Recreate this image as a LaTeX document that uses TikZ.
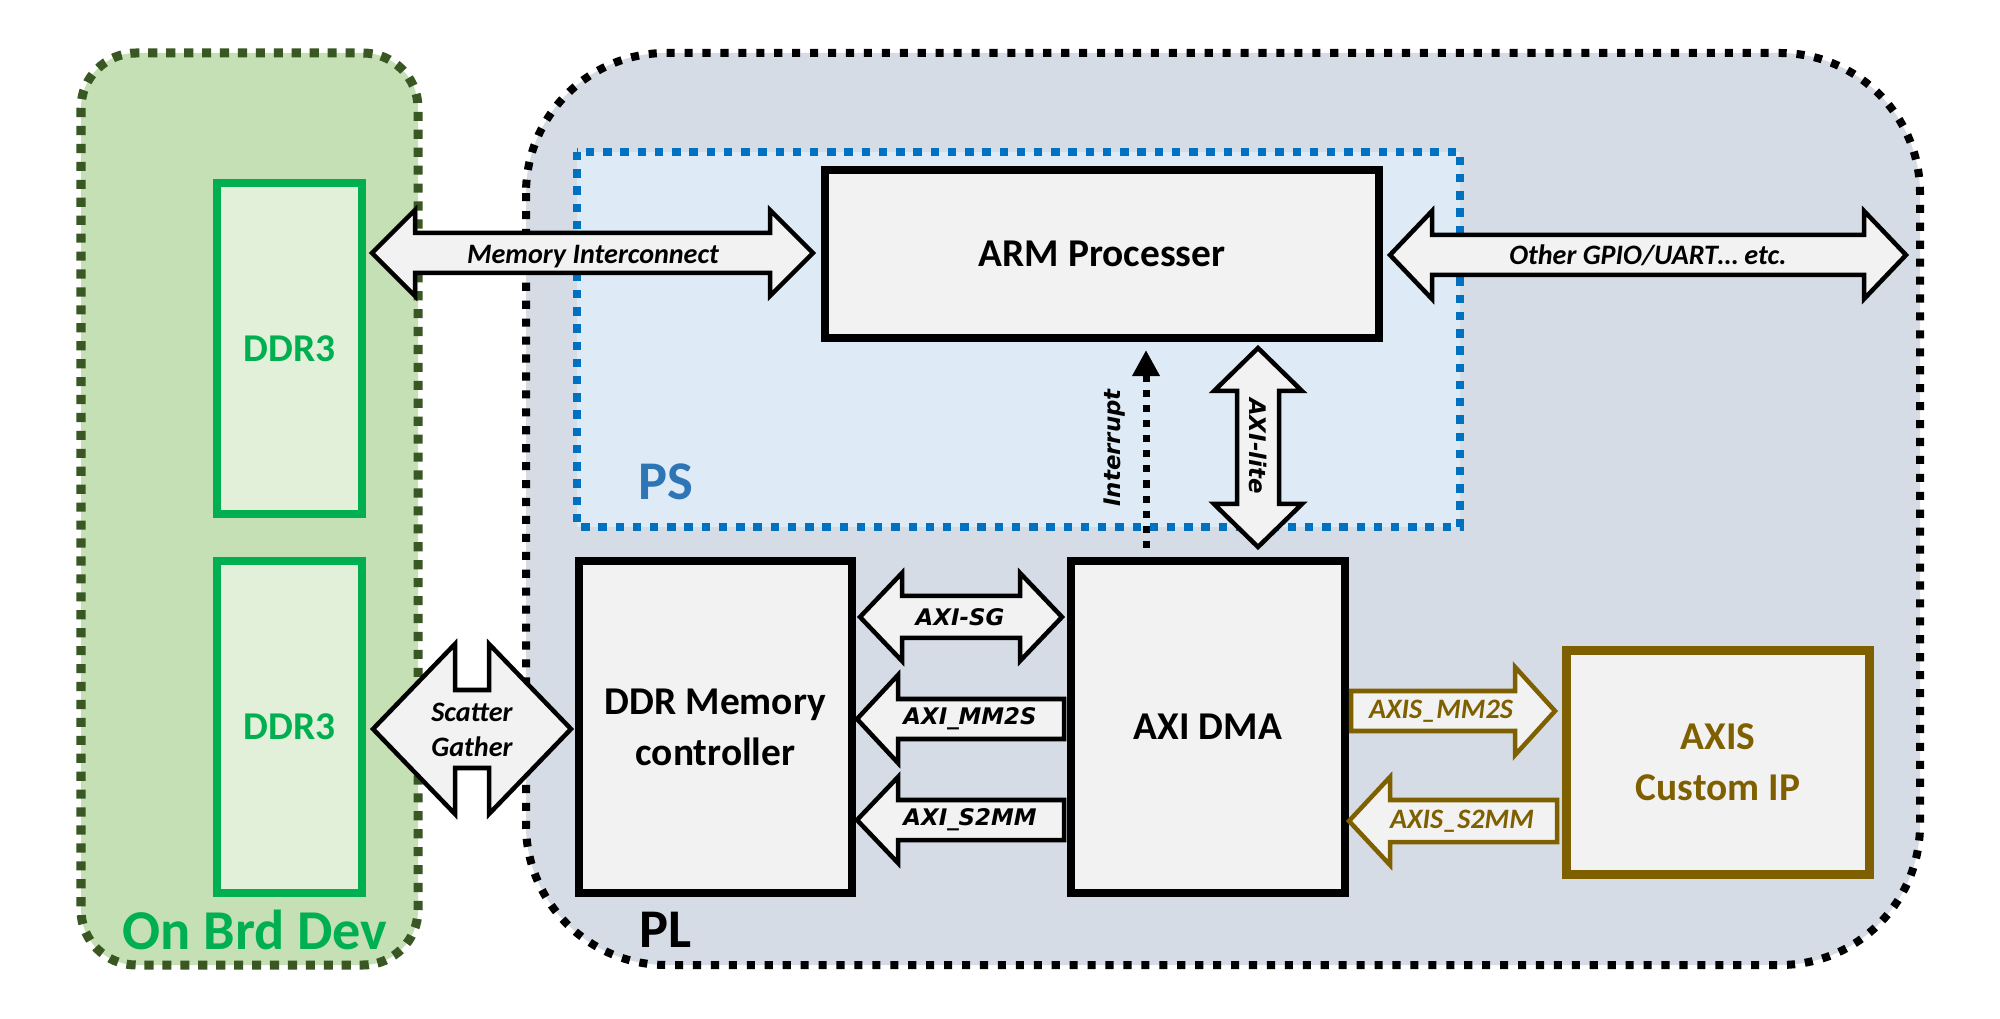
\documentclass[tikz,border=0pt]{standalone}
\usepackage{fontspec}
\setmainfont{Carlito}
\newfontfamily\vfont{DejaVu Sans}
\usetikzlibrary{arrows.meta}
\definecolor{grnfill}{HTML}{C5E0B4}
\definecolor{grnborder}{HTML}{385723}
\definecolor{ddrgreen}{HTML}{00B050}
\definecolor{ddrfill}{HTML}{E2F0D9}
\definecolor{greyfill}{HTML}{D6DCE5}
\definecolor{psfill}{HTML}{DEEBF7}
\definecolor{psborder}{HTML}{0070C0}
\definecolor{pstext}{HTML}{2E75B6}
\definecolor{boxfill}{HTML}{F2F2F2}
\definecolor{brown}{HTML}{7F6000}
% horizontal double arrow: x1 x2 y headlen headhalf shafthalf style
\newcommand\hdarr[7]{\draw[#7] (#1,#3) -- ({#1+#4},{#3-#5}) -- ({#1+#4},{#3-#6}) -- ({#2-#4},{#3-#6}) -- ({#2-#4},{#3-#5}) -- (#2,#3) -- ({#2-#4},{#3+#5}) -- ({#2-#4},{#3+#6}) -- ({#1+#4},{#3+#6}) -- ({#1+#4},{#3+#5}) -- cycle;}
% vertical double arrow: y1 y2 x headlen headhalf shafthalf style
\newcommand\vdarr[7]{\draw[#7] (#3,#1) -- ({#3-#5},{#1+#4}) -- ({#3-#6},{#1+#4}) -- ({#3-#6},{#2-#4}) -- ({#3-#5},{#2-#4}) -- (#3,#2) -- ({#3+#5},{#2-#4}) -- ({#3+#6},{#2-#4}) -- ({#3+#6},{#1+#4}) -- ({#3+#5},{#1+#4}) -- cycle;}
% left pointing arrow: tip x, end x, y, headlen, headhalf, shafthalf, style
\newcommand\larr[7]{\draw[#7] (#1,#3) -- ({#1+#4},{#3-#5}) -- ({#1+#4},{#3-#6}) -- (#2,{#3-#6}) -- (#2,{#3+#6}) -- ({#1+#4},{#3+#6}) -- ({#1+#4},{#3+#5}) -- cycle;}
% right pointing arrow: start x, tip x, y, headlen, headhalf, shafthalf, style
\newcommand\rarr[7]{\draw[#7] (#2,#3) -- ({#2-#4},{#3-#5}) -- ({#2-#4},{#3-#6}) -- (#1,{#3-#6}) -- (#1,{#3+#6}) -- ({#2-#4},{#3+#6}) -- ({#2-#4},{#3+#5}) -- cycle;}
\begin{document}
\begin{tikzpicture}[x=0.01cm,y=-0.01cm,
  box/.style={draw=black,line width=0.08cm,fill=boxfill,inner sep=0pt,align=center,
    font=\fontsize{11.2}{14.5}\selectfont\bfseries},
  ddrbox/.style={draw=ddrgreen,line width=0.08cm,fill=ddrfill,inner sep=0pt,
    minimum width=1.45cm,minimum height=3.31cm,text=ddrgreen,
    font=\fontsize{11.2}{14}\selectfont\bfseries},
  blk/.style={draw=black,line width=0.045cm,fill=boxfill,line join=miter},
  blkb/.style={draw=brown,line width=0.045cm,fill=boxfill,line join=miter},
  clbl/.style={inner sep=0pt,font=\fontsize{8}{10}\selectfont\bfseries\itshape,align=center},
  vlbl/.style={inner sep=0pt,font=\fontsize{6.5}{8}\selectfont\vfont\bfseries\itshape},
  biglbl/.style={inner sep=0pt,font=\fontsize{15.5}{18}\selectfont\bfseries},
]
\useasboundingbox (0,0) rectangle (2000,1019);
% containers
\draw[draw=grnborder,fill=grnfill,line width=0.09cm,dash pattern=on 2.6pt off 2.5pt,rounded corners=0.55cm] (81,53) rectangle (418,965);
\draw[draw=black,fill=greyfill,line width=0.08cm,dash pattern=on 2.3pt off 2.8pt,rounded corners=1.4cm] (526,53) rectangle (1920,965);
\draw[draw=psborder,fill=psfill,line width=0.08cm,dash pattern=on 2.4pt off 2.5pt] (577,152) rectangle (1460,527);
% labels of containers
\node[biglbl,text=ddrgreen,font=\fontsize{16}{18}\selectfont\bfseries] (obd) at (255,930) {On Brd Dev};
\node[biglbl,text=pstext] (ps) at (666,482) {PS};
\node[biglbl,text=black] (pl) at (666,930) {PL};
% DDR3 chips
\node[ddrbox] (ddrA) at (289.5,348.5) {DDR3};
\node[ddrbox,minimum height=3.32cm] (ddrB) at (289.5,727) {DDR3};
% main boxes
\node[box,minimum width=5.54cm,minimum height=1.68cm] (arm) at (1102,254) {ARM Processer};
\node[box,minimum width=2.73cm,minimum height=3.32cm] (ddrc) at (715.5,727) {DDR Memory\\controller};
\node[box,minimum width=2.74cm,minimum height=3.32cm] (dma) at (1208,727) {AXI DMA};
\node[box,draw=brown,line width=0.09cm,minimum width=3.02cm,minimum height=2.23cm,text=brown] (ip) at (1718,762.5) {AXIS\\Custom IP};
% block arrows
\hdarr{372}{813}{253}{43}{43}{20}{blk}
\node[clbl] (mi) at (593,257) {Memory Interconnect};
\hdarr{1390}{1906}{255}{42}{44}{20}{blk}
\node[clbl] (gpio) at (1648,255) {Other GPIO/UART\ldots\ etc.};
\draw[blk] (373,729) -- (455,644) -- (455,690) -- (489,690) -- (489,644) -- (571,729) -- (489,814) -- (489,768) -- (455,768) -- (455,814) -- cycle;
\node[clbl,font=\fontsize{8}{10}\selectfont\bfseries\itshape] (sg) at (472,730) {Scatter\\Gather};
\hdarr{860}{1062}{617}{42}{44}{21}{blk}
\node[vlbl] (axisg) at (960,617) {AXI-SG};
\larr{857}{1064}{719}{41}{44}{20}{blk}
\node[vlbl] (mm2s) at (970,719) {AXI\_MM2S};
\larr{857}{1064}{820}{41}{43}{20}{blk}
\node[vlbl] (s2mm) at (970,820) {AXI\_S2MM};
\vdarr{348}{547}{1258}{43}{44}{21}{blk}
\node[vlbl,rotate=-90] (axil) at (1258,446) {AXI-lite};
\rarr{1351}{1555}{711}{40}{44}{20}{blkb}
\node[clbl,text=brown] (amm2s) at (1441,711) {AXIS\_MM2S};
\larr{1349}{1557}{821}{41}{44}{21}{blkb}
\node[clbl,text=brown] (as2mm) at (1462,821) {AXIS\_S2MM};
% interrupt
\coordinate (intS) at (1146,548);
\coordinate (intE) at (1146,350);
\draw[line width=0.07cm,dash pattern=on 2pt off 2.3pt,-{Triangle[width=0.26cm,length=0.26cm]}] (intS) -- (intE);
\node[vlbl,rotate=90] (intr) at (1115,448) {Interrupt};
\end{tikzpicture}
\end{document}
